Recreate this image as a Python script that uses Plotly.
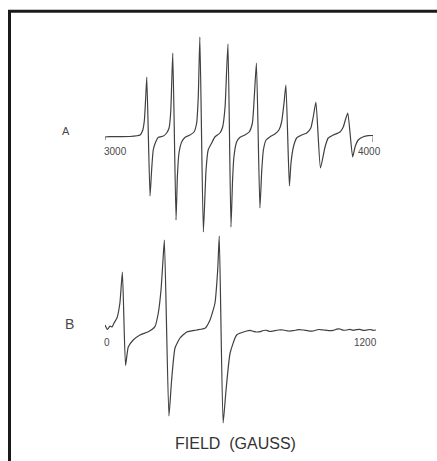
import plotly.graph_objects as go

W, H = 437, 461

# Spectrum A: field (G) and derivative intensity (arb. units)
field_a = [3000, 3000, 3019, 3093, 3131, 3141, 3147, 3152, 3156,
           3168, 3174, 3180, 3189, 3199, 3218, 3230, 3239, 3245, 3249, 3253,
           3265, 3270, 3276, 3286, 3299, 3317, 3332, 3342, 3348, 3354,
           3367, 3377, 3385, 3398, 3410, 3429, 3439, 3448, 3454, 3459,
           3470, 3476, 3481, 3491, 3504, 3522, 3538, 3550, 3557, 3565,
           3578, 3585, 3591, 3601, 3616, 3634, 3649, 3659, 3668, 3675,
           3688, 3694, 3703, 3715, 3734, 3753, 3768, 3777, 3787,
           3804, 3821, 3833, 3852, 3877, 3889, 3899, 3906,
           3924, 3933, 3945, 3964, 3982, 4000, 4000]
signal_a = [-3, 0, 0.3, 0.5, 2, 7, 17, 40, 60,
            -59, -33, -13, -5, -0.3, 1, 4, 9, 24, 54, 84,
            -83, -40, -16, -5, -0.3, 2, 5, 14, 40, 100,
            -95, -33, -13, -6, 0, 4, 10, 30, 67, 93,
            -90, -43, -20, -5, -0.3, 2, 5, 14, 40, 74,
            -71, -33, -13, -3, 0.3, 3, 7, 15, 34, 52,
            -49, -26, -10, -1, 2, 4, 9, 20, 35,
            -31, -10, -1, 2, 5, 10, 19, 24,
            -20, -10, -3, 0.3, 1.3, 1.3, -4.7]

# Spectrum B
field_b = [0, 11, 22, 31, 40, 53, 66, 77,
           91, 103, 125, 155, 192, 221, 236, 248, 256, 263,
           283, 295, 310, 332, 362, 406, 443, 465, 487, 499, 506,
           523, 536, 554, 583, 627, 642, 657, 671, 686, 701, 716, 730, 745,
           768, 790, 812, 834, 856, 878, 900, 922, 945, 967, 989, 1011,
           1026, 1041, 1055, 1070, 1085, 1099, 1114, 1129, 1144, 1159,
           1173, 1188, 1200]
signal_b = [5, 0.5, 4, 3, 7, 12, 27, 58,
            -35.5, -17, -10, -5, -1.7, 3.3, 17, 40, 67, 90,
            -86, -50, -18, -8, -2, 0, 1.7, 10, 27, 60, 94,
            -93, -60, -23, -5, -1, -0.3, -1.3, -2, -1.7, -0.5, -0.3, -1.5, -1,
            0, 0, -1, -0.7, 0.3, 0, -0.8, -1, 0.5, 0, -0.6, -0.3,
            0.8, 1, -0.2, 0, 0.6, -0.3, 0.4, 0.7, -0.4, 0,
            0.5, -0.3, 0]

LINE = "#404040"
TXT = "#4a4a4a"

fig = go.Figure()
fig.add_trace(go.Scatter(x=field_a, y=signal_a, mode="lines",
                         line=dict(color=LINE, width=1.2, shape="spline", smoothing=0.5),
                         xaxis="x", yaxis="y", hoverinfo="skip"))
fig.add_trace(go.Scatter(x=field_b, y=signal_b, mode="lines",
                         line=dict(color=LINE, width=1.2, shape="spline", smoothing=0.5),
                         xaxis="x2", yaxis="y2", hoverinfo="skip"))

def px(v):
    return v / W

def py(v):
    return 1 - v / H

ax = dict(visible=False, showgrid=False, zeroline=False, fixedrange=True)
fig.update_layout(
    width=W, height=H,
    margin=dict(l=0, r=0, t=0, b=0),
    paper_bgcolor="white", plot_bgcolor="rgba(0,0,0,0)",
    showlegend=False,
    xaxis=dict(domain=[px(105), px(373)], range=[3000, 4000], anchor="y", **ax),
    yaxis=dict(domain=[py(250), py(20)], range=[-113, 117], anchor="x", **ax),
    xaxis2=dict(domain=[px(105), px(376)], range=[0, 1200], anchor="y2", **ax),
    yaxis2=dict(domain=[py(435), py(225)], range=[-105, 105], anchor="x2", **ax),
    font=dict(family="Liberation Sans, Arial, sans-serif", color=TXT),
)

ann = [
    dict(text="A", x=px(66), y=py(131), xref="paper", yref="paper",
         font=dict(size=11, color=TXT)),
    dict(text="B", x=px(69.5), y=py(324), xref="paper", yref="paper",
         font=dict(size=14, color=TXT)),
    dict(text="3000", x=3000, y=-14.7, xref="x", yref="y", xanchor="left",
         xshift=-3, font=dict(size=10, color=TXT)),
    dict(text="4000", x=4000, y=-14.7, xref="x", yref="y", xanchor="center",
         xshift=-3.5, font=dict(size=10, color=TXT)),
    dict(text="0", x=0, y=-12.5, xref="x2", yref="y2", xanchor="center",
         xshift=1.5, font=dict(size=10, color=TXT)),
    dict(text="1200", x=1200, y=-12, xref="x2", yref="y2", xanchor="center",
         xshift=-10.5, font=dict(size=10, color=TXT)),
    dict(text="FIELD \u00a0(GAUSS)", x=px(235.5), y=py(443.5), xref="paper",
         yref="paper", font=dict(size=16, color="#333333")),
]
for a in ann:
    a.setdefault("xanchor", "center")
    a["showarrow"] = False
    a["yanchor"] = "middle"
fig.update_layout(annotations=ann)

fig.update_layout(shapes=[
    dict(type="line", xref="paper", yref="paper", x0=px(9.5), x1=px(9.5),
         y0=py(10), y1=0, line=dict(color="#1a1a1a", width=3)),
    dict(type="line", xref="paper", yref="paper", x0=px(8), x1=1,
         y0=py(11.3), y1=py(11.3), line=dict(color="#1a1a1a", width=3)),
])

fig.write_html("out.html")
